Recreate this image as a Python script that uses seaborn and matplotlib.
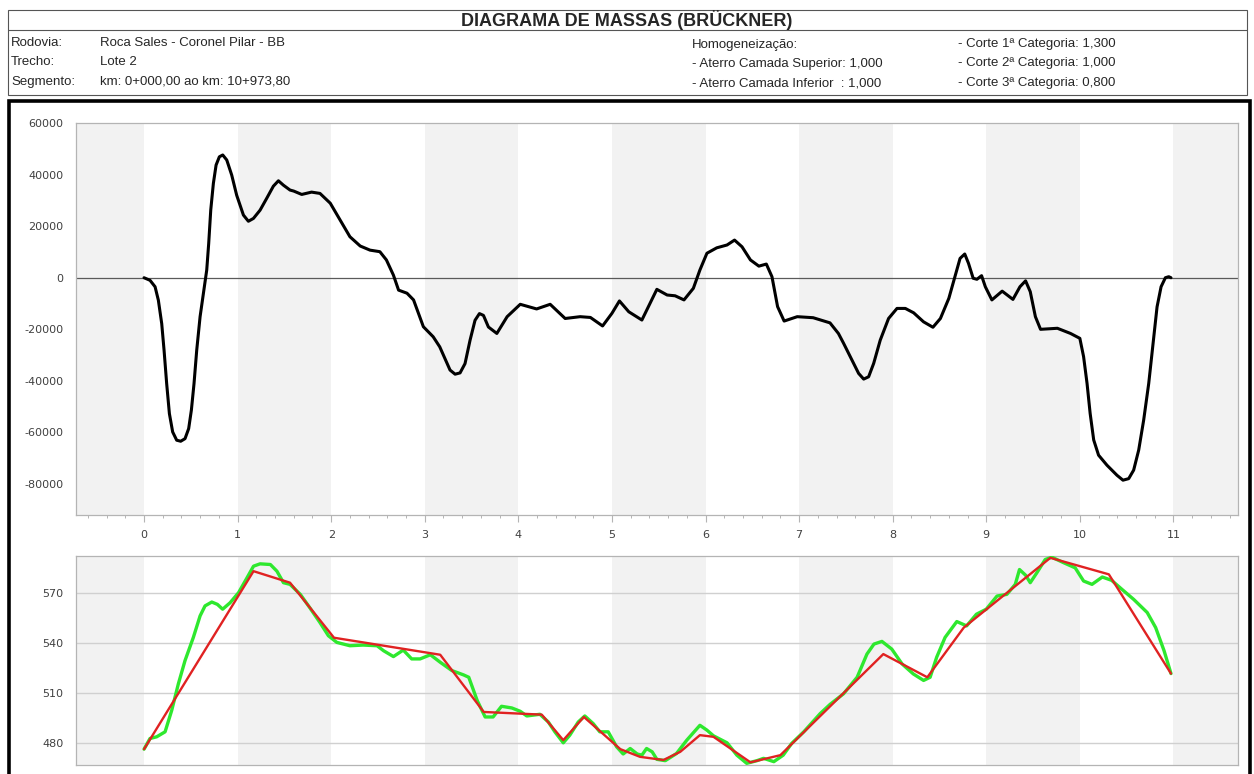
"""Diagrama de massas (Brückner) com perfil do terreno e greide."""

import matplotlib
matplotlib.use("Agg")
import matplotlib.pyplot as plt
import pandas as pd
import seaborn as sns
from matplotlib.lines import Line2D
from matplotlib.patches import Rectangle
from matplotlib.ticker import MultipleLocator, NullFormatter

W, H = 1254, 774

TITLE = "DIAGRAMA DE MASSAS (BRÜCKNER)"
INFO_LABELS = ["Rodovia:", "Trecho:", "Segmento:"]
INFO_VALUES = ["Roca Sales - Coronel Pilar - BB", "Lote 2", "km: 0+000,00 ao km: 10+973,80"]
HOMOG = ["Homogeneização:", "- Aterro Camada Superior: 1,000", "- Aterro Camada Inferior  : 1,000"]
CORTES = ["- Corte 1ª Categoria: 1,300", "- Corte 2ª Categoria: 1,000", "- Corte 3ª Categoria: 0,800"]

# curva de Brückner (km, m3)
KM_MASSA = [
    0.00, 0.064, 0.118, 0.153, 0.189, 0.214, 0.242, 0.271, 0.306, 0.349, 0.392, 0.438,
    0.477, 0.506, 0.534, 0.563, 0.599, 0.634, 0.670, 0.691, 0.713, 0.741, 0.770, 0.805,
    0.841, 0.884, 0.937, 0.990, 1.062, 1.115, 1.169, 1.240, 1.311, 1.382, 1.436, 1.489,
    1.560, 1.60, 1.685, 1.79, 1.88, 1.99, 2.095, 2.20, 2.31, 2.415, 2.52, 2.59, 2.665,
    2.72, 2.81, 2.88, 2.985, 3.09, 3.16, 3.27, 3.324, 3.377, 3.43, 3.484, 3.537, 3.584,
    3.627, 3.68, 3.77, 3.88, 4.02, 4.195, 4.34, 4.50, 4.66, 4.77, 4.90, 5.00, 5.08, 5.18,
    5.32, 5.39, 5.48, 5.59, 5.675, 5.77, 5.87, 5.94, 6.015, 6.12, 6.23, 6.31, 6.39, 6.48,
    6.57, 6.65, 6.71, 6.77, 6.84, 6.98, 7.15, 7.33, 7.42, 7.475, 7.547, 7.636, 7.69,
    7.743, 7.797, 7.867, 7.956, 8.046, 8.135, 8.224, 8.33, 8.43, 8.51, 8.60, 8.67, 8.72,
    8.77, 8.81, 8.86, 8.90, 8.95, 8.99, 9.06, 9.17, 9.285, 9.36, 9.42, 9.47, 9.525, 9.58,
    9.76, 9.90, 10.00, 10.04, 10.077, 10.11, 10.148, 10.20, 10.29, 10.397, 10.461, 10.522,
    10.575, 10.629, 10.682, 10.736, 10.782, 10.825, 10.868, 10.914, 10.95, 10.974,
]
VOL_MASSA = [
    0, -1000, -3500, -8700, -17800, -28100, -41100, -52700, -59800, -63000, -63400, -62400,
    -58500, -51300, -41100, -28100, -15100, -6100, 3000, 13300, 26300, 36600, 43700, 46900,
    47600, 45650, 39800, 32000, 24300, 21900, 23000, 26200, 30800, 35500, 37600, 35900,
    34000, 33600, 32300, 33200, 32700, 28900, 22400, 15900, 12300, 10700, 10100, 6900, 1000,
    -4800, -6000, -8600, -19000, -22900, -26800, -35800, -37400, -36900, -33300, -24200,
    -16500, -13900, -14600, -19100, -21600, -15100, -10300, -12100, -10300, -15800, -15100,
    -15400, -18700, -13800, -9000, -13200, -16400, -11200, -4500, -6700, -7000, -8600,
    -4100, 3000, 9500, 11600, 12700, 14600, 12000, 6900, 4500, 5300, 400, -11200, -16800,
    -15100, -15500, -17500, -21600, -25400, -30600, -37100, -39300, -38400, -33200, -24200,
    -15800, -11900, -11900, -13600, -17100, -19200, -15800, -8000, 1000, 7500, 9200, 5600,
    -200, -600, 800, -3500, -8600, -5200, -8400, -3500, -1200, -5400, -15100, -20000,
    -19600, -21600, -23500, -30600, -41000, -52600, -62900, -68800, -72700, -76600, -78500,
    -77900, -74600, -66800, -55200, -41000, -25500, -11300, -3500, 0, 400, 0,
]

# perfil do terreno (verde)
KM_TERRENO = [
    0.00, 0.064, 0.135, 0.225, 0.296, 0.367, 0.438, 0.527, 0.599, 0.652, 0.724, 0.784,
    0.84, 0.92, 1.01, 1.09, 1.17, 1.24, 1.35, 1.42, 1.49, 1.56, 1.67, 1.77, 1.88, 1.97,
    2.06, 2.20, 2.34, 2.49, 2.56, 2.665, 2.77, 2.86, 2.95, 3.06, 3.165, 3.29, 3.415, 3.47,
    3.56, 3.645, 3.73, 3.82, 3.93, 4.02, 4.09, 4.23, 4.32, 4.39, 4.48, 4.55, 4.64, 4.71,
    4.80, 4.87, 4.96, 5.05, 5.12, 5.195, 5.27, 5.32, 5.37, 5.43, 5.48, 5.57, 5.69, 5.80,
    5.94, 6.015, 6.085, 6.23, 6.335, 6.44, 6.55, 6.62, 6.73, 6.83, 6.92, 7.05, 7.225, 7.33,
    7.475, 7.62, 7.725, 7.80, 7.885, 7.99, 8.10, 8.22, 8.33, 8.40, 8.47, 8.56, 8.685, 8.79,
    8.895, 9.00, 9.115, 9.22, 9.31, 9.355, 9.42, 9.47, 9.54, 9.63, 9.70, 9.83, 9.95, 10.04,
    10.13, 10.24, 10.34, 10.45, 10.575, 10.72, 10.81, 10.90, 10.974,
]
COTA_TERRENO = [
    476.2, 482.6, 483.6, 486.6, 499.5, 515.4, 529.3, 543.2, 556.1, 562.1, 564.4, 563.0,
    560.1, 564.0, 570.0, 577.9, 585.9, 587.3, 586.9, 582.9, 576.0, 575.0, 569.0, 561.1,
    552.1, 544.2, 540.2, 538.2, 538.6, 538.2, 535.2, 531.7, 535.6, 530.3, 530.3, 532.8,
    528.3, 523.3, 520.7, 519.3, 505.4, 495.5, 495.5, 501.9, 500.9, 498.9, 496.1, 497.1,
    492.5, 486.6, 480.0, 484.6, 492.5, 496.1, 491.5, 486.6, 486.6, 477.6, 473.3, 476.6,
    473.3, 472.6, 476.6, 474.6, 470.1, 469.3, 473.6, 481.6, 490.5, 487.6, 484.2, 480.0,
    472.6, 467.7, 469.3, 470.7, 468.7, 472.6, 479.6, 486.6, 497.5, 503.0, 509.4, 519.3,
    533.2, 539.2, 540.8, 536.2, 527.3, 521.3, 517.4, 519.3, 531.3, 543.2, 552.7, 550.1,
    557.1, 560.1, 568.0, 569.0, 575.0, 583.9, 580.5, 576.0, 581.9, 589.9, 591.3, 587.9,
    584.9, 577.0, 575.0, 579.4, 577.4, 572.0, 566.0, 558.1, 549.1, 535.2, 521.5,
]

# greide (vermelho)
KM_GREIDE = [
    0.00, 1.17, 1.56, 2.03, 3.165, 3.63, 4.25, 4.48, 4.70, 5.09, 5.30, 5.55, 5.73, 5.94,
    6.085, 6.48, 6.80, 7.90, 8.37, 8.76, 9.685, 10.31, 10.974,
]
COTA_GREIDE = [
    476.2, 582.9, 576.0, 543.0, 532.8, 498.5, 496.9, 481.6, 495.5, 476.2, 471.6, 469.7,
    474.6, 484.6, 483.6, 468.3, 472.6, 533.2, 519.3, 549.1, 590.9, 581.0, 521.5,
]

BAND = "#f2f2f2"
AXIS_GRAY = "#b4b4b4"
TICK_TEXT = "#404040"


def fx(px: float) -> float:
    return px / W


def fy(py: float) -> float:
    return 1 - py / H


def style_axis(ax, xlim, ylim, ymajor, yminor, show_x):
    for k in range(-1, 12, 2):
        ax.axvspan(k, k + 1, color=BAND, lw=0, zorder=0)
    ax.set_xlim(*xlim)
    ax.set_ylim(*ylim)
    ax.xaxis.set_major_locator(MultipleLocator(1))
    ax.xaxis.set_minor_locator(MultipleLocator(0.2))
    ax.yaxis.set_major_locator(MultipleLocator(ymajor))
    ax.yaxis.set_minor_locator(MultipleLocator(yminor))
    for side in ["top", "bottom", "left", "right"]:
        ax.spines[side].set_color(AXIS_GRAY)
        ax.spines[side].set_linewidth(0.9)
    ax.tick_params(which="major", direction="out", length=5, width=0.8, color=AXIS_GRAY,
                   labelsize=8, labelcolor=TICK_TEXT, pad=4)
    ax.tick_params(which="minor", direction="out", length=2.5, width=0.7, color=AXIS_GRAY)
    ax.tick_params(axis="x", which="both", bottom=show_x, labelbottom=show_x)
    ax.tick_params(axis="x", which="major", pad=5.5)
    ax.set_xlabel("")
    ax.set_ylabel("")
    for lab in ax.get_xticklabels() + ax.get_yticklabels():
        lab.set_fontfamily("DejaVu Sans")


def main() -> None:
    sns.set_theme(style="white")
    plt.rcParams["font.family"] = ["Liberation Sans", "DejaVu Sans"]
    plt.rcParams["axes.unicode_minus"] = False
    plt.rcParams["lines.solid_joinstyle"] = "round"

    massa = pd.DataFrame({"km": KM_MASSA, "volume": VOL_MASSA})
    terreno = pd.DataFrame({"km": KM_TERRENO, "cota": COTA_TERRENO})
    greide = pd.DataFrame({"km": KM_GREIDE, "cota": COTA_GREIDE})

    fig = plt.figure(figsize=(W / 100, H / 100), dpi=100)
    fig.patch.set_facecolor("white")

    # cabeçalho
    fig.add_artist(Rectangle((fx(8), fy(95)), fx(1247) - fx(8), fy(10) - fy(95),
                             transform=fig.transFigure, fill=False, ec="#555555", lw=0.8))
    fig.add_artist(Line2D([fx(8), fx(1247)], [fy(30), fy(30)], transform=fig.transFigure,
                          color="#555555", lw=0.8))
    fig.text(0.5, fy(20), TITLE, ha="center", va="center", fontsize=13, weight="bold")
    rows_y = [43, 62, 82]
    for i, y in enumerate(rows_y):
        fig.text(fx(11), fy(y), INFO_LABELS[i], ha="left", va="center", fontsize=9.5)
        fig.text(fx(100), fy(y), INFO_VALUES[i], ha="left", va="center", fontsize=9.5)
        fig.text(fx(692), fy(y + 2), HOMOG[i], ha="left", va="center", fontsize=9.5)
        fig.text(fx(958), fy(y + 1), CORTES[i], ha="left", va="center", fontsize=9.5)

    # moldura do gráfico
    fig.add_artist(Rectangle((fx(9), fy(790)), fx(1250) - fx(9), fy(101) - fy(790),
                             transform=fig.transFigure, fill=False, ec="black", lw=2.6))

    ax1 = fig.add_axes([fx(76), fy(515), fx(1238) - fx(76), fy(123) - fy(515)])
    ax2 = fig.add_axes([fx(76), fy(765), fx(1238) - fx(76), fy(556) - fy(765)])

    xlim = (-0.727, 11.69)

    ax1.axhline(0, color="#5a5a5a", lw=0.9, zorder=1)
    sns.lineplot(data=massa, x="km", y="volume", ax=ax1, color="black", lw=2.2,
                 sort=False, estimator=None, zorder=3)
    style_axis(ax1, xlim, (-92000, 60000), 20000, 4000, True)

    ax2.grid(axis="y", which="major", color="#d0d0d0", lw=1.0)
    ax2.set_axisbelow(True)
    sns.lineplot(data=terreno, x="km", y="cota", ax=ax2, color="#2ee82e", lw=2.4,
                 sort=False, estimator=None, zorder=3)
    sns.lineplot(data=greide, x="km", y="cota", ax=ax2, color="#e02222", lw=1.7,
                 sort=False, estimator=None, zorder=4)
    style_axis(ax2, xlim, (466.7, 592.0), 30, 6, False)
    ax2.xaxis.set_major_formatter(NullFormatter())

    fig.savefig("out.png", dpi=100, facecolor="white")
    plt.close(fig)


if __name__ == "__main__":
    main()
